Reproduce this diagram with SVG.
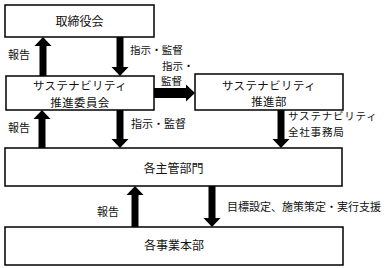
<svg xmlns="http://www.w3.org/2000/svg" width="387" height="268" viewBox="0 0 387 268">
<style>
.box{fill:#fff;stroke:#000;stroke-width:1.5}
.t{font-family:"Noto Sans CJK JP","Liberation Sans",sans-serif;fill:#111}
.bt{font-size:12px;text-anchor:middle}
.bt2{font-size:11.4px;text-anchor:middle;letter-spacing:0.5px}
.lt{font-size:11px}
.lt2{font-size:10.6px}
.sh{stroke:#000;stroke-width:7;fill:none}
.shh{stroke:#000;stroke-width:10;fill:none}
</style>
<defs>
<marker id="ah" markerUnits="userSpaceOnUse" markerWidth="10" markerHeight="18" refX="0" refY="8.5" orient="auto" overflow="visible">
<path d="M0,0 L9,8.5 L0,17 Z" fill="#000"/>
</marker>
</defs>
<rect width="387" height="268" fill="#fff"/>
<g id="connectors">
<line class="sh" x1="43" y1="76" x2="43" y2="46" marker-end="url(#ah)"/>
<line class="sh" x1="120" y1="37" x2="120" y2="67" marker-end="url(#ah)"/>
<line class="shh" x1="154" y1="93" x2="186" y2="93" marker-end="url(#ah)"/>
<line class="sh" x1="42" y1="148" x2="42" y2="119" marker-end="url(#ah)"/>
<line class="sh" x1="120" y1="110" x2="120" y2="139" marker-end="url(#ah)"/>
<line class="sh" x1="281" y1="110" x2="281" y2="139" marker-end="url(#ah)"/>
<line class="sh" x1="135" y1="227" x2="135" y2="195" marker-end="url(#ah)"/>
<line class="sh" x1="212" y1="186" x2="212" y2="218" marker-end="url(#ah)"/>
<text class="t lt" x="8" y="59">報告</text>
<text class="t lt2" x="130" y="54">指示・監督</text>
<text class="t lt2"><tspan x="162" y="69.6">指示・</tspan><tspan x="161" y="85.2">監督</tspan></text>
<text class="t lt" x="8" y="132">報告</text>
<text class="t lt" x="131" y="128">指示・監督</text>
<text class="t lt2" letter-spacing="0.7"><tspan x="288" y="120">サステナビリティ</tspan><tspan x="288" y="135.5">全社事務局</tspan></text>
<text class="t lt" x="97" y="216">報告</text>
<text class="t lt" x="227" y="211">目標設定、施策策定・実行支援</text>
</g>
<g id="board">
<rect class="box" x="5" y="5" width="149" height="32"/>
<text class="t bt" x="79.5" y="25.5">取締役会</text>
</g>
<g id="committee">
<rect class="box" x="6" y="76" width="148" height="34"/>
<text class="t bt2"><tspan x="80" y="90">サステナビリティ</tspan><tspan x="80" y="106.6">推進委員会</tspan></text>
</g>
<g id="promotion">
<rect class="box" x="195" y="74" width="148" height="36"/>
<text class="t bt2"><tspan x="269" y="89.8">サステナビリティ</tspan><tspan x="269" y="106.4">推進部</tspan></text>
</g>
<g id="departments">
<rect class="box" x="5" y="148" width="337" height="38"/>
<text class="t bt" x="173.5" y="173">各主管部門</text>
</g>
<g id="divisions">
<rect class="box" x="5" y="227" width="338" height="38"/>
<text class="t bt" x="174" y="250">各事業本部</text>
</g>
</svg>
